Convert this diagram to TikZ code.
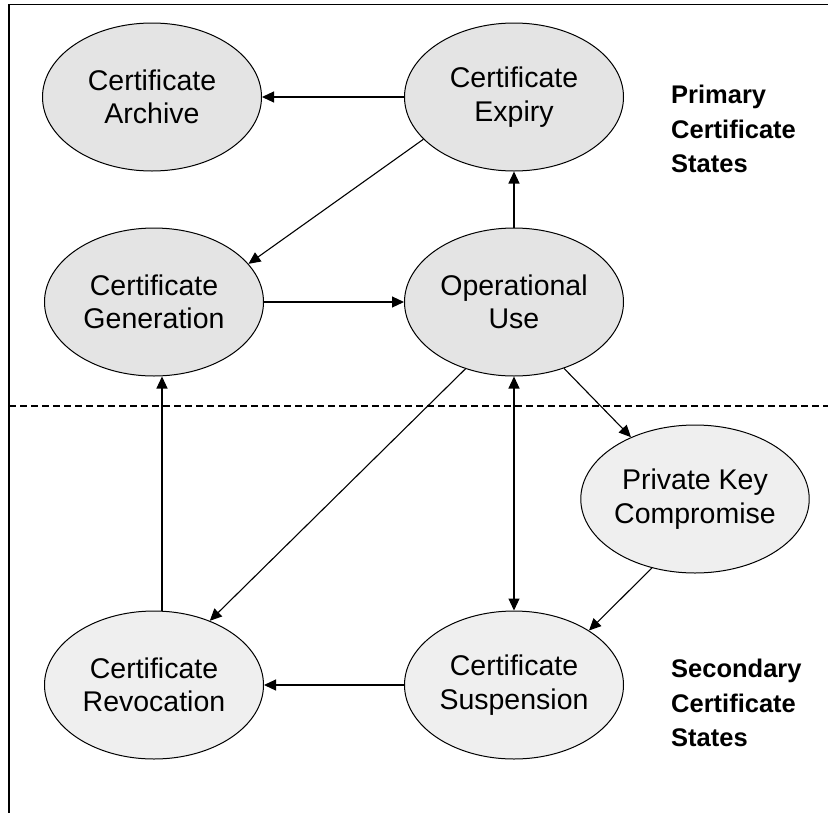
\documentclass[tikz,border=0pt]{standalone}
\usepackage{fontspec}
\setmainfont{Liberation Sans}
\usetikzlibrary{arrows.meta,shapes.geometric}
\definecolor{primfill}{RGB}{228,228,228}
\definecolor{secfill}{RGB}{239,239,239}

\begin{document}
\begin{tikzpicture}[x=1pt,y=-1pt,
    state/.style={ellipse,draw,line width=1pt,minimum width=219pt,minimum height=148pt,
      inner sep=0pt,align=center,font=\fontsize{28.5}{33.5}\selectfont},
    arr/.style={line width=1.1pt,-{Triangle[length=12pt,width=11pt]}},
    tag/.style={anchor=north west,align=left,inner sep=0pt,
      font=\fontsize{25.5}{34.5}\selectfont\bfseries}]
        \useasboundingbox (0,0) rectangle (828,812);
        % frame and the primary/secondary split
        \draw[line width=1.4pt] (9,830) -- (9,4.5) -- (840,4.5);
        \draw[line width=1.2pt,dash pattern=on 7pt off 4pt] (9,406) -- (828,406);
        % states
        \foreach \n/\x/\y/\t in {arc/152/97/{Certificate\\Archive},
            exp/514/97/{Certificate\\Expiry},
            gen/154/302/{Certificate\\Generation},
            use/514/302/{Operational\\Use}}
          \node[state,fill=primfill] (\n) at (\x,\y) {\t};
        \foreach \n/\x/\y/\t in {pkc/695/499/{Private Key\\Compromise},
            rev/154/685/{Certificate\\Revocation},
            sus/514/685/{Certificate\\Suspension}}
          \node[state,fill=secfill] (\n) at (\x,\y) {\t};
        \node[tag] (prim) at (671,85) {Primary\\Certificate\\States};
        \node[tag] (sec) at (671,659) {Secondary\\Certificate\\States};
        % transitions
        \draw[arr] (exp) -- (arc);
        \draw[arr] (exp.205.7) -- (gen.22.6);
        \draw[arr] (gen) -- (use);
        \draw[arr] (use) -- (exp);
        \draw[arr] ([xshift=8pt]rev.north) -- ([xshift=8pt]gen.south);
        \draw[arr] (use.234.5) -- (rev.49.6);
        \draw[arr,{Triangle[length=12pt,width=11pt]}-{Triangle[length=12pt,width=11pt]}] (use) -- (sus);
        \draw[arr] (use.-53.4) -- (pkc.136.8);
        \draw[arr] (pkc.238) -- (sus.36.7);
        \draw[arr] (sus) -- (rev);
      \end{tikzpicture}
\end{document}
